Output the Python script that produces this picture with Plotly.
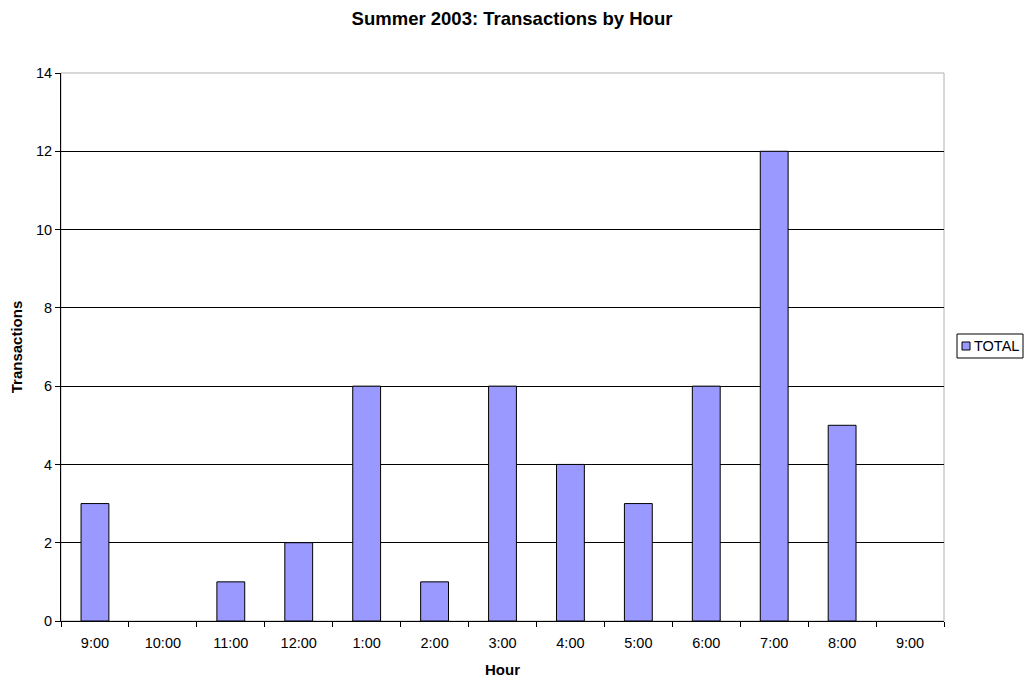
import plotly.graph_objects as go

hours = ["9:00", "10:00", "11:00", "12:00", "1:00", "2:00", "3:00",
         "4:00", "5:00", "6:00", "7:00", "8:00", "9:00"]
total = [3, 0, 1, 2, 6, 1, 6, 4, 3, 6, 12, 5, 0]

pos = list(range(len(hours)))
font = "Liberation Sans, Arial, sans-serif"
bar_color = "#9999ff"

# the page body adds an 8px margin, so the figure is drawn 8px smaller
OFF = 8
W, H = 1032 - OFF, 679 - OFF
L, R, T, B = 61 - OFF, 88, 73 - OFF, 58
pw, ph = W - L - R, H - T - B


def px_x(x):
    # page pixel -> paper fraction
    return (x - OFF - L) / pw


def px_y(y):
    return (H - B - (y - OFF)) / ph


fig = go.Figure()
fig.add_trace(go.Bar(
    x=pos, y=total, name="TOTAL", width=0.41,
    marker=dict(color=bar_color,
                line=dict(color="black", width=[1 if v else 0 for v in total])),
    showlegend=False,
))

fig.update_layout(
    width=W, height=H,
    margin=dict(l=L, r=R, t=T, b=B, autoexpand=False),
    paper_bgcolor="white", plot_bgcolor="white",
    font=dict(family=font, size=14.5, color="black"),
    title=dict(text="<b>Summer 2003: Transactions by Hour</b>",
               xref="paper", x=px_x(512), xanchor="center",
               yref="container", y=1 - (19 - OFF) / H, yanchor="middle",
               font=dict(size=18.5)),
    shapes=[
        dict(type="rect", xref="paper", yref="paper", x0=0, x1=1, y0=0, y1=1,
             line=dict(color="#b0b0b0", width=1), layer="below"),
        # legend box
        dict(type="rect", xref="paper", yref="paper",
             x0=px_x(957), x1=px_x(1023), y0=px_y(358), y1=px_y(334),
             line=dict(color="black", width=1), fillcolor="white"),
        dict(type="rect", xref="paper", yref="paper",
             x0=px_x(962), x1=px_x(970), y0=px_y(350), y1=px_y(342),
             line=dict(color="black", width=1), fillcolor=bar_color),
    ],
    annotations=[dict(text="TOTAL", xref="paper", yref="paper", x=px_x(972), y=px_y(346),
                      xanchor="left", yanchor="middle", showarrow=False,
                      font=dict(size=14.5))],
)

fig.update_xaxes(
    range=[-0.5, len(hours) - 0.5],
    tickvals=pos, ticktext=hours, ticks="", ticklabelstandoff=9,
    minor=dict(tickvals=[p - 0.5 for p in pos] + [len(hours) - 0.5],
               ticks="outside", ticklen=5, tickcolor="black", showgrid=False),
    showline=True, linecolor="black", linewidth=1, showgrid=False, zeroline=False,
    title=dict(text="<b>Hour</b>", standoff=14, font=dict(size=15)),
)
fig.update_yaxes(
    range=[0, 14], dtick=2, ticks="outside", ticklen=5, tickcolor="black",
    showline=True, linecolor="black", linewidth=1,
    showgrid=True, gridcolor="black", gridwidth=1, zeroline=False,
    title=dict(text="<b>Transactions</b>", standoff=12, font=dict(size=15)),
)

fig.write_html("out.html")
